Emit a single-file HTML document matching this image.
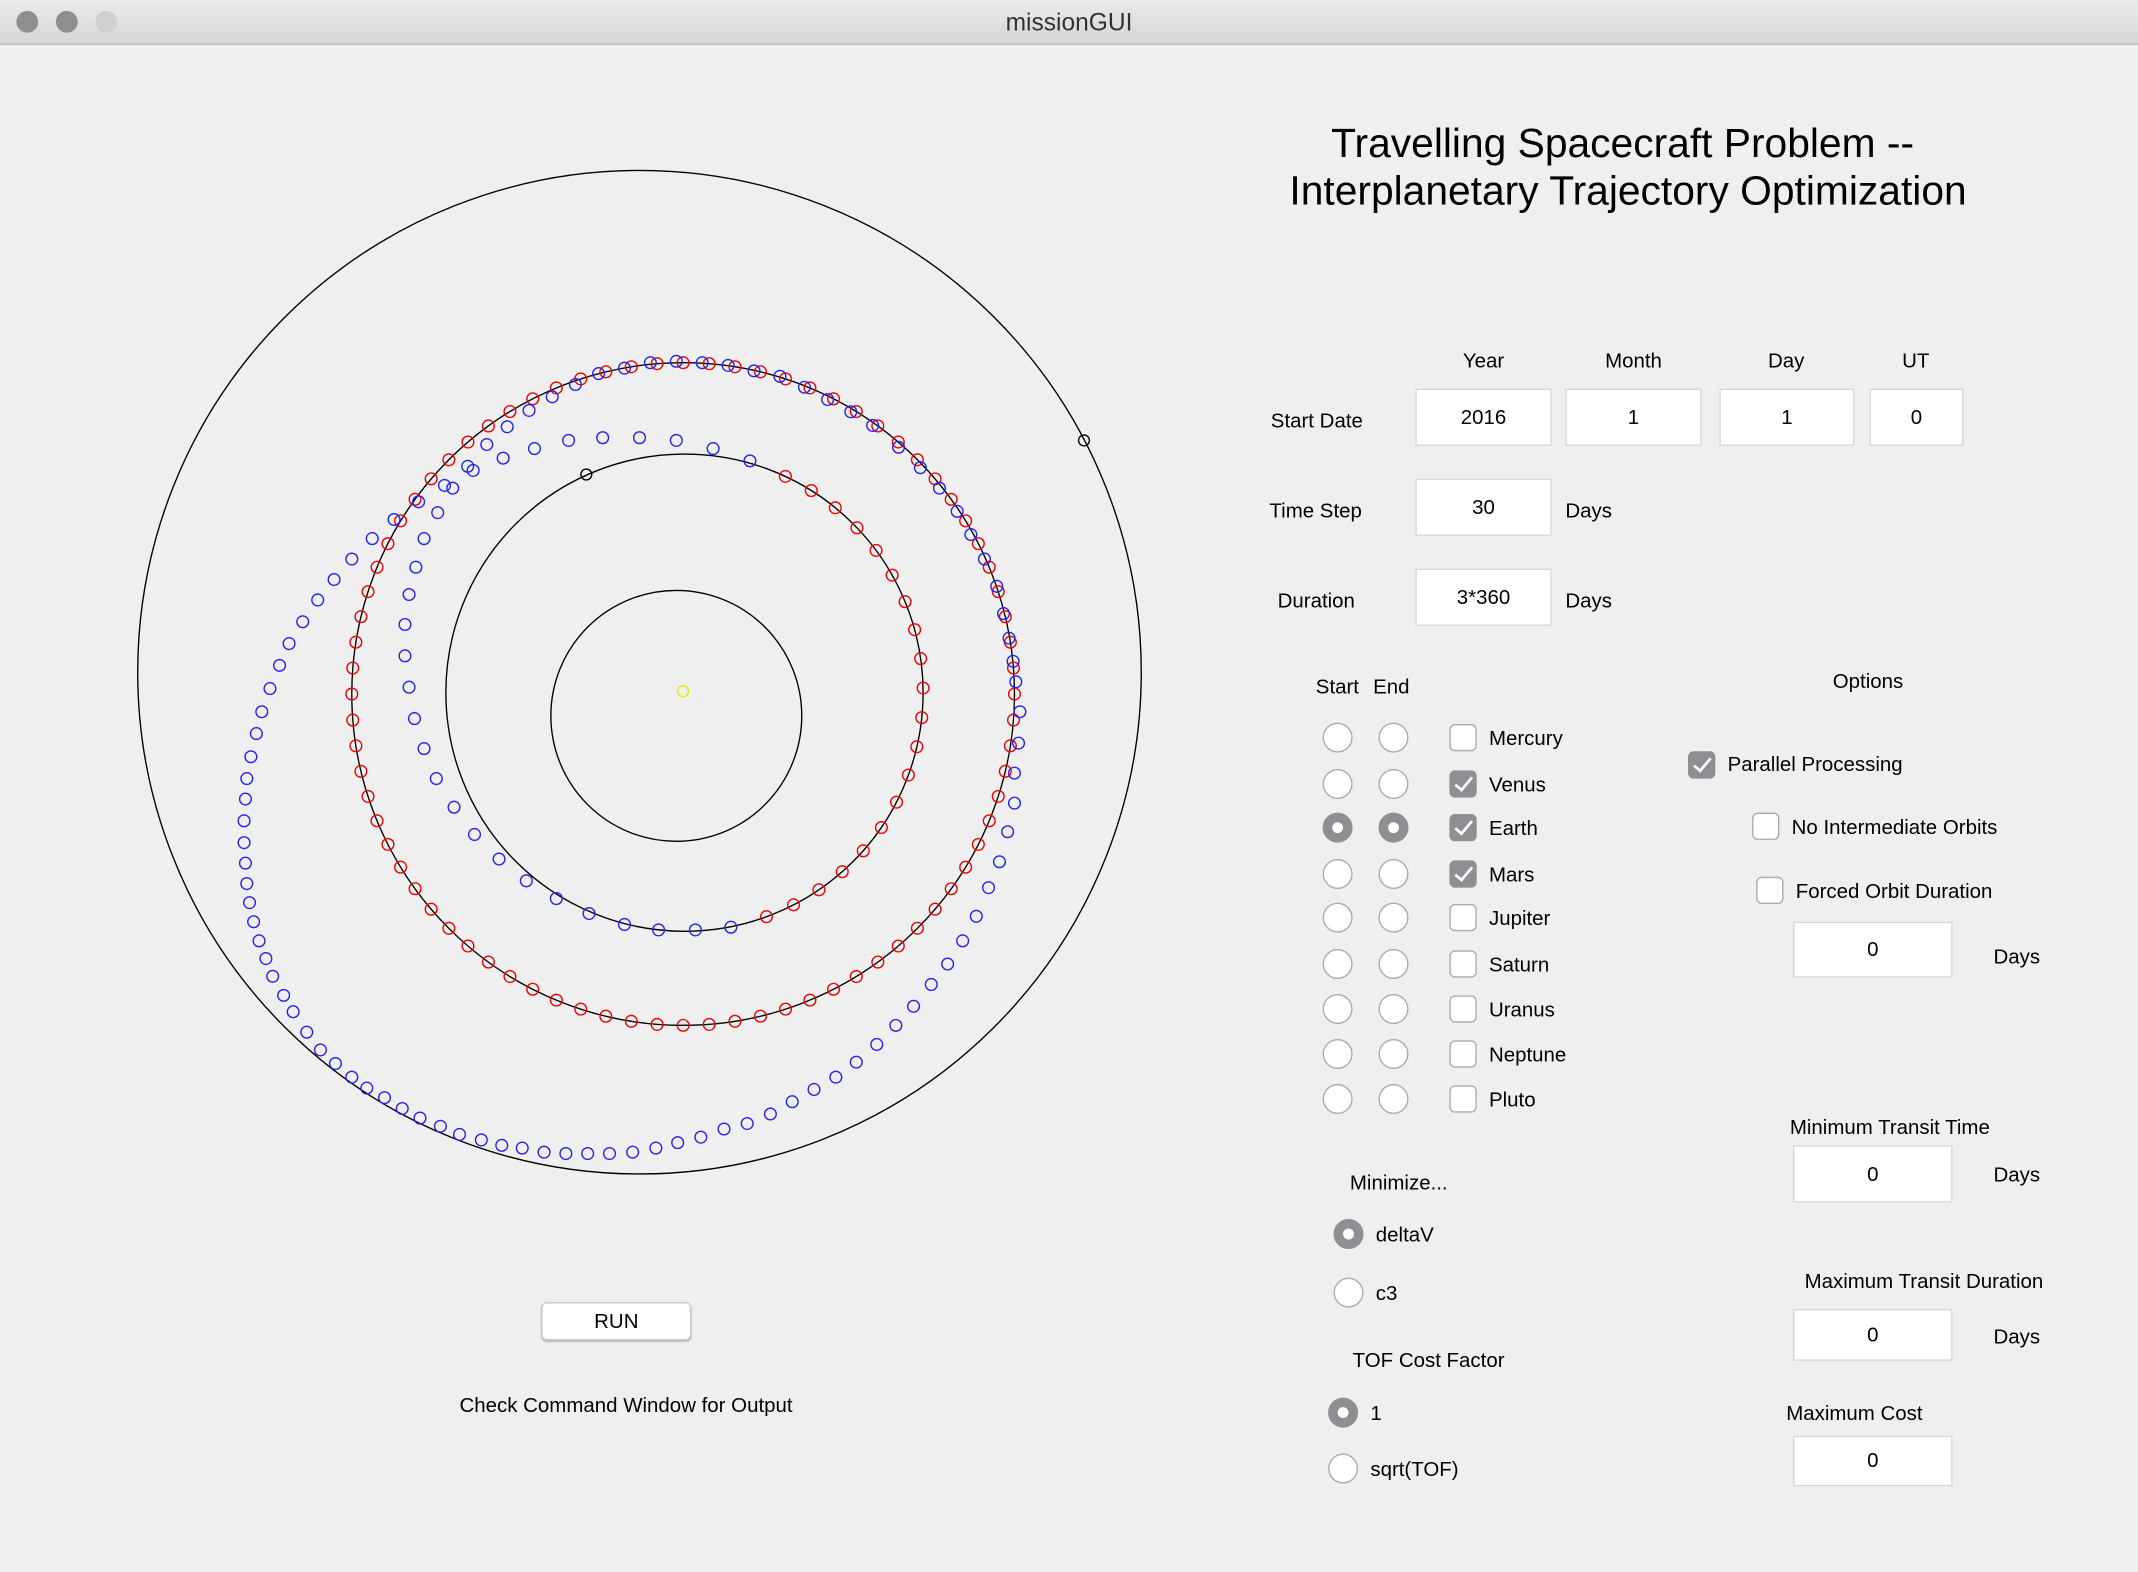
<!DOCTYPE html>
<html><head><meta charset="utf-8"><style>
html,body{margin:0;padding:0;width:2138px;height:1572px;overflow:hidden;background:#efefef}
#w{position:absolute;left:0;top:0;width:1568px;height:1153px;transform:scale(1.36352);transform-origin:0 0;font-family:"Liberation Sans",sans-serif;color:#000}
.t{position:absolute;font-size:15px;white-space:nowrap}
.c{transform:translate(-50%,-50%)}
.l{transform:translateY(-50%)}
.in{position:absolute;background:#fff;border:1px solid #d6d6d6;box-sizing:border-box;font-size:15px;display:flex;align-items:center;justify-content:center}
.r{position:absolute;width:22px;height:22px;border-radius:50%;background:#fff;border:1px solid #aaa;box-sizing:border-box;transform:translate(-50%,-50%)}
.r.s{background:#8e8e93;border-color:#8e8e93}
.r.s:after{content:"";position:absolute;left:6px;top:6px;width:8px;height:8px;border-radius:50%;background:#fff}
.cb{position:absolute;width:20px;height:20px;border-radius:4px;background:#fff;border:1px solid #aaa;box-sizing:border-box;transform:translate(-50%,-50%)}
.cb.k{background:#8e8e93;border-color:#8e8e93}
.cb.k:after{content:"";position:absolute;left:6px;top:1px;width:5px;height:11px;border:solid #fff;border-width:0 2.5px 2.5px 0;transform:rotate(40deg)}
</style></head><body><div id="w">
<div style="position:absolute;left:0;top:0;width:1568px;height:32px;background:linear-gradient(#ebebeb,#d6d6d6);border-bottom:1px solid #b8b8b8"></div>
<div style="position:absolute;left:12px;top:8px;width:16px;height:16px;border-radius:50%;background:#8e8e8e"></div>
<div style="position:absolute;left:41px;top:8px;width:16px;height:16px;border-radius:50%;background:#8e8e8e"></div>
<div style="position:absolute;left:70px;top:8px;width:16px;height:16px;border-radius:50%;background:#d0d0d0"></div>
<div class="t c" style="left:784px;top:17px;font-size:18px;color:#333">missionGUI</div>
<svg id="p" style="position:absolute;left:0;top:0" width="900" height="900" fill="none" stroke-width="1">
<circle cx="469" cy="493" r="368" stroke="#000"/>
<circle cx="496" cy="525" r="92" stroke="#000"/>
<circle cx="502" cy="508" r="175" stroke="#000"/>
<circle cx="501" cy="509" r="243" stroke="#000"/>
<circle cx="501" cy="507" r="4" stroke="#e8e800"/>
<circle cx="430" cy="348" r="4" stroke="#000"/>
<circle cx="795" cy="323" r="4" stroke="#000"/>
<g id="d"></g>
</svg>
<script>
var g=document.getElementById('d'),s='';
function dot(x,y,c){s+='<circle cx="'+x.toFixed(1)+'" cy="'+y.toFixed(1)+'" r="4.3" stroke="'+c+'"/>';}
var i,a;
for(i=0;i<80;i++){a=i/80*2*Math.PI;dot(501+243*Math.cos(a),509+243*Math.sin(a),'#e00');}
for(i=0;i<=19;i++){a=(-65+i*7.1)*Math.PI/180;dot(502+175*Math.cos(a),508+175*Math.sin(a),'#e00');}
var B=[[496,265],[515,266],[534,268],[553,272],[572,276],[590,284],[607,293],[624,302],[640,312],[659,328],[675,343],[689,358],[702,375],[712,392],[722,410],[731,430],[736,450],[740,468],[743,485],[745,500],[748,522],[747,545],[744,567],[744,589],[739,610],[733,632],[725,651],[716,672],[706,690],[695,707],[683,722],[670,738],[657,752],[643,766],[628,779],[613,790],[597,799],[581,808],[565,817],[548,824],[531,828],[514,834],[497,838],[481,842],[464,845],[447,846],[431,846],[415,846],[399,845],[383,842],[368,840],[353,836],[337,832],[323,826],[308,820],[295,813],[282,805],[269,798],[258,790],[246,780],[235,770],[225,757],[215,742],[208,730],[200,716],[195,703],[190,690],[186,676],[183,662],[181,648],[180,633],[179,618],[179,602],[180,586],[181,571],[184,555],[188,538],[192,522],[198,505],[205,488],[212,472],[222,456],[233,440],[245,425],[258,410],[273,395],[289,381],[307,368],[332,358],[347,345],[357,326],[372,313],[388,301],[405,291],[422,282],[439,274],[458,270],[477,266],
[550,338],[523,329],[496,323],[469,321],[442,321],[417,323],[392,329],[369,336],[343,342],[326,356],[321,376],[311,395],[305,416],[300,436],[297,458],[297,481],[300,504],[304,527],[311,549],[320,571],[333,592],[348,612],[366,630],[386,646],[408,659],[432,670],[458,678],[483,682],[510,682],[536,680]];
for(i=0;i<B.length;i++)dot(B[i][0],B[i][1],'#22e');
g.innerHTML=s;
</script>
<div class="t c" style="left:1190px;top:106px;font-size:29.9px">Travelling Spacecraft Problem --</div>
<div class="t c" style="left:1194px;top:141px;font-size:29.9px">Interplanetary Trajectory Optimization</div>
<div class="t c" style="left:1088px;top:265px">Year</div>
<div class="t c" style="left:1198px;top:265px">Month</div>
<div class="t c" style="left:1310px;top:265px">Day</div>
<div class="t c" style="left:1405px;top:265px">UT</div>
<div class="t l" style="left:932px;top:309px">Start Date</div>
<div class="in" style="left:1038px;top:285px;width:100px;height:42px">2016</div>
<div class="in" style="left:1148px;top:285px;width:100px;height:42px">1</div>
<div class="in" style="left:1261px;top:285px;width:99px;height:42px">1</div>
<div class="in" style="left:1371px;top:285px;width:69px;height:42px">0</div>
<div class="t l" style="left:931px;top:375px">Time Step</div>
<div class="in" style="left:1038px;top:351px;width:100px;height:42px">30</div>
<div class="t l" style="left:1148px;top:375px">Days</div>
<div class="t l" style="left:937px;top:441px">Duration</div>
<div class="in" style="left:1038px;top:417px;width:100px;height:42px">3*360</div>
<div class="t l" style="left:1148px;top:441px">Days</div>
<div class="t l" style="left:965px;top:504px">Start</div>
<div class="t l" style="left:1007px;top:504px">End</div>
<div class="t c" style="left:1370px;top:500px">Options</div>
<div id="rows"></div>
<script>
var names=['Mercury','Venus','Earth','Mars','Jupiter','Saturn','Uranus','Neptune','Pluto'],ys=[541,575,607,641,673,707,740,773,806],h='';
for(var j=0;j<9;j++){var y=ys[j];var sel=j==2?' s':'';var ck=(j>=1&&j<=3)?' k':'';
h+='<div class="r'+sel+'" style="left:981px;top:'+y+'px"></div><div class="r'+sel+'" style="left:1022px;top:'+y+'px"></div><div class="cb'+ck+'" style="left:1073px;top:'+y+'px"></div><div class="t l" style="left:1092px;top:'+(y+1)+'px">'+names[j]+'</div>';}
document.getElementById('rows').innerHTML=h;
</script>
<div class="cb k" style="left:1248px;top:561px"></div><div class="t l" style="left:1267px;top:561px">Parallel Processing</div>
<div class="cb" style="left:1295px;top:606px"></div><div class="t l" style="left:1314px;top:607px">No Intermediate Orbits</div>
<div class="cb" style="left:1298px;top:653px"></div><div class="t l" style="left:1317px;top:654px">Forced Orbit Duration</div>
<div class="in" style="left:1315px;top:676px;width:117px;height:41px">0</div>
<div class="t l" style="left:1462px;top:702px">Days</div>
<div class="t c" style="left:1386px;top:827px">Minimum Transit Time</div>
<div class="in" style="left:1315px;top:840px;width:117px;height:42px">0</div>
<div class="t l" style="left:1462px;top:862px">Days</div>
<div class="t c" style="left:1411px;top:940px">Maximum Transit Duration</div>
<div class="in" style="left:1315px;top:960px;width:117px;height:38px">0</div>
<div class="t l" style="left:1462px;top:981px">Days</div>
<div class="t c" style="left:1360px;top:1037px">Maximum Cost</div>
<div class="in" style="left:1315px;top:1053px;width:117px;height:37px">0</div>
<div class="t l" style="left:990px;top:868px">Minimize...</div>
<div class="r s" style="left:989px;top:905px"></div><div class="t l" style="left:1009px;top:906px">deltaV</div>
<div class="r" style="left:989px;top:948px"></div><div class="t l" style="left:1009px;top:949px">c3</div>
<div class="t l" style="left:992px;top:998px">TOF Cost Factor</div>
<div class="r s" style="left:985px;top:1036px"></div><div class="t l" style="left:1005px;top:1037px">1</div>
<div class="r" style="left:985px;top:1077px"></div><div class="t l" style="left:1005px;top:1078px">sqrt(TOF)</div>
<div class="in" style="left:397px;top:955px;width:110px;height:28px;border-color:#c8c8c8;border-radius:4px;box-shadow:0 1px 1px #bbb">RUN</div>
<div class="t l" style="left:337px;top:1031px">Check Command Window for Output</div>
</div></body></html>
